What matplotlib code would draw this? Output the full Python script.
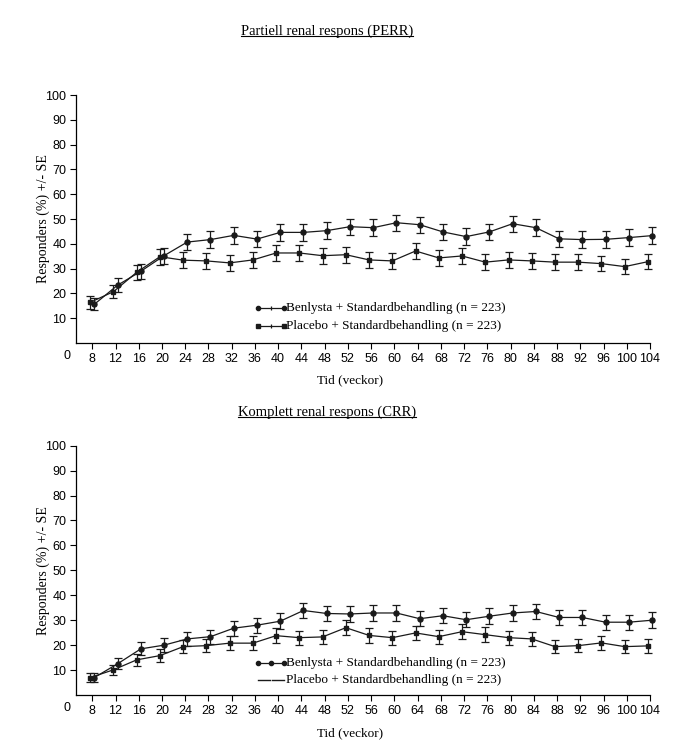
import numpy as np
import matplotlib
matplotlib.use("Agg")
import matplotlib.pyplot as plt
from matplotlib.lines import Line2D

weeks = [8, 12, 16, 20, 24, 28, 32, 36, 40, 44, 48, 52, 56,
         60, 64, 68, 72, 76, 80, 84, 88, 92, 96, 100, 104]

# Partiell renal respons (PERR)
perr_benlysta = [15.6, 23.3, 28.9, 35.2, 40.7, 41.7, 43.4, 41.9, 44.6, 44.6, 45.3, 46.9, 46.5,
                 48.5, 47.7, 44.8, 42.9, 44.8, 48.1, 46.5, 42.0, 41.7, 41.8, 42.5, 43.3]
perr_benlysta_se = [2.4, 2.8, 3.0, 3.2, 3.3, 3.3, 3.3, 3.3, 3.3, 3.3, 3.3, 3.3, 3.3,
                    3.3, 3.3, 3.3, 3.3, 3.3, 3.3, 3.3, 3.3, 3.3, 3.3, 3.3, 3.3]
perr_placebo = [16.4, 20.7, 28.5, 34.8, 33.4, 33.1, 32.3, 33.5, 36.3, 36.3, 35.2, 35.6, 33.5,
                33.1, 37.1, 34.3, 35.1, 32.6, 33.5, 33.1, 32.6, 32.6, 32.0, 30.8, 32.8]
perr_placebo_se = [2.5, 2.7, 3.0, 3.2, 3.2, 3.1, 3.1, 3.2, 3.2, 3.2, 3.2, 3.2, 3.2,
                   3.1, 3.2, 3.2, 3.2, 3.1, 3.2, 3.2, 3.1, 3.1, 3.1, 3.1, 3.1]

# Komplett renal respons (CRR)
crr_benlysta = [7.0, 12.5, 18.5, 20.0, 22.5, 23.4, 26.8, 28.0, 29.6, 33.9, 32.7, 32.5, 32.9,
                32.9, 30.6, 31.8, 30.2, 31.6, 32.9, 33.5, 31.1, 31.1, 29.2, 29.2, 30.0]
crr_benlysta_se = [1.7, 2.2, 2.6, 2.7, 2.8, 2.8, 3.0, 3.0, 3.1, 3.2, 3.1, 3.1, 3.1,
                   3.1, 3.1, 3.1, 3.1, 3.1, 3.1, 3.2, 3.1, 3.1, 3.0, 3.0, 3.1]
crr_placebo = [7.0, 10.1, 14.1, 15.8, 19.4, 19.8, 20.8, 20.8, 23.8, 23.0, 23.3, 27.0, 23.9,
               23.0, 24.9, 23.4, 25.4, 24.2, 23.0, 22.5, 19.4, 19.8, 20.9, 19.4, 19.7]
crr_placebo_se = [1.7, 2.0, 2.3, 2.5, 2.6, 2.7, 2.7, 2.7, 2.9, 2.8, 2.8, 3.0, 2.9,
                  2.8, 2.9, 2.8, 2.9, 2.9, 2.8, 2.8, 2.6, 2.7, 2.7, 2.6, 2.7]

label_b = "Benlysta + Standardbehandling (n = 223)"
label_p = "Placebo + Standardbehandling (n = 223)"
yticks = [10, 20, 30, 40, 50, 60, 70, 80, 90, 100]

SERIF = "Liberation Serif"
SANS = "Liberation Sans"
INK = "#1a1a1a"

fig = plt.figure(figsize=(6.93, 7.44), dpi=100)
ax1 = fig.add_axes([76 / 693, 1 - 343 / 744, 574 / 693, 248 / 744])
ax2 = fig.add_axes([76 / 693, 1 - 695 / 744, 574 / 693, 249.3 / 744])

w = np.array(weeks)
dx = 0.35


def draw_panel(ax, b, b_se, p, p_se, legend_rows, placebo_handle):
    for xs, ys, es, mk, ms in ((w + dx, b, b_se, "o", 3.6), (w - dx, p, p_se, "s", 3.4)):
        cont = ax.errorbar(xs, ys, yerr=es, color=INK, lw=0.9, marker=mk, ms=ms,
                           capsize=3, elinewidth=0.9, capthick=0.9, zorder=3)
        for art in cont.get_children():
            art.set_clip_on(False)
    ax.set_xlim(5.2, 104)
    ax.set_ylim(0, 100)
    ax.set_xticks(weeks)
    ax.set_yticks(yticks)
    ax.tick_params(direction="out", length=4, width=0.8, labelsize=9, pad=3)
    for lab in ax.get_xticklabels() + ax.get_yticklabels():
        lab.set_fontfamily(SANS)
    ax.spines["top"].set_visible(False)
    ax.spines["right"].set_visible(False)
    for s in ("left", "bottom"):
        ax.spines[s].set_linewidth(0.9)
    ax.set_ylabel("Responders (%) +/- SE", fontfamily=SERIF, fontsize=10)
    ax.yaxis.set_label_coords(-0.045, 0.5)
    ax.set_xlabel("Tid (veckor)", fontfamily=SERIF, fontsize=9.5)
    ax.xaxis.set_label_coords(0.478, -0.128)
    # origin label
    ax.text(3.6, -0.052, "0", transform=ax.get_xaxis_transform(), ha="center", va="center",
            fontfamily=SANS, fontsize=9, clip_on=False)
    # manual legend
    x0, x1 = 0.317, 0.362
    (yb, yp) = legend_rows
    ax.plot([x0, x1], [yb, yb], color=INK, lw=0.9, transform=ax.transAxes)
    ax.plot([x0, x1], [yb, yb], ls="none", marker="o", ms=3, color=INK, transform=ax.transAxes)
    ax.text(x1 + 0.003, yb, label_b, transform=ax.transAxes, va="center", ha="left",
            fontfamily=SERIF, fontsize=9.5)
    placebo_handle(ax, x0, x1, yp)
    ax.text(x1 + 0.003, yp, label_p, transform=ax.transAxes, va="center", ha="left",
            fontfamily=SERIF, fontsize=9.5)
    return ax


def perr_placebo_handle(ax, x0, x1, y):
    ax.plot([x0, x1], [y, y], color=INK, lw=0.9, transform=ax.transAxes)
    ax.plot([x0, x1], [y, y], ls="none", marker="s", ms=3, color=INK, transform=ax.transAxes)
    ax.plot([(x0 + x1) / 2], [y], ls="none", marker="|", ms=3.5, mew=0.9, color=INK,
            transform=ax.transAxes)


def crr_placebo_handle(ax, x0, x1, y):
    xm = (x0 + x1) / 2
    ax.plot([x0, xm - 0.002], [y, y], color=INK, lw=1.0, transform=ax.transAxes)
    ax.plot([xm + 0.002, x1], [y, y], color=INK, lw=1.0, transform=ax.transAxes)


draw_panel(ax1, perr_benlysta, perr_benlysta_se, perr_placebo, perr_placebo_se,
           (0.141, 0.0685), perr_placebo_handle)
ax1.plot([0.3395], [0.141], ls="none", marker="|", ms=3.5, mew=0.9, color=INK,
         transform=ax1.transAxes)

draw_panel(ax2, crr_benlysta, crr_benlysta_se, crr_placebo, crr_placebo_se,
           (0.128, 0.060), crr_placebo_handle)
ax2.plot([0.3395], [0.128], ls="none", marker="o", ms=3, color=INK,
         transform=ax2.transAxes)

# underlined titles
t1 = fig.text(327 / 693, 1 - 31 / 744, "Partiell renal respons (PERR)", ha="center", va="center",
              fontfamily=SERIF, fontsize=10.5)
t2 = fig.text(327 / 693, 1 - 412 / 744, "Komplett renal respons (CRR)", ha="center", va="center",
              fontfamily=SERIF, fontsize=10.5)
renderer = fig.canvas.get_renderer()
for t in (t1, t2):
    bb = t.get_window_extent(renderer=renderer).transformed(fig.transFigure.inverted())
    yline = bb.y0 + 0.15 * bb.height
    fig.add_artist(Line2D([bb.x0, bb.x1], [yline, yline], color="black", lw=0.8,
                          transform=fig.transFigure))

fig.savefig("out.png", dpi=100)
